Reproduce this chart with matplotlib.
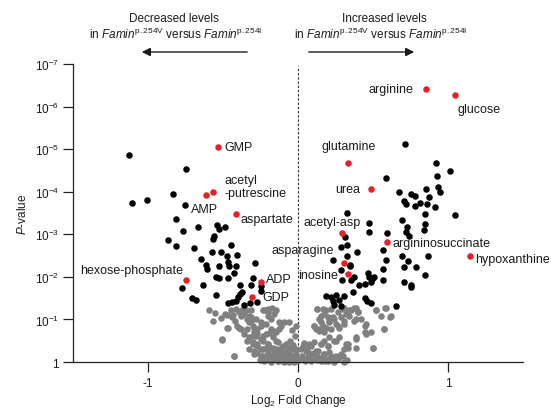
import numpy as np
import matplotlib
matplotlib.use("Agg")
import matplotlib.pyplot as plt

plt.rcParams['font.family'] = ['Liberation Sans', 'DejaVu Sans']
plt.rcParams['mathtext.fontset'] = 'custom'
plt.rcParams['mathtext.rm'] = 'Liberation Sans'
plt.rcParams['mathtext.it'] = 'Liberation Sans:italic'
plt.rcParams['mathtext.default'] = 'regular'

# ---------------- data (log2 fold change, -log10 P) ----------------
gray_fc = [-0.593, -0.564, -0.504, -0.426, -0.488, -0.466, -0.430, -0.421, -0.404, -0.370,
           -0.359, -0.343, -0.326, -0.314, -0.303, -0.381, -0.337, -0.292, -0.270, -0.247,
           -0.225, -0.203, -0.176, -0.163, -0.125, -0.091, -0.058, -0.114, -0.326, -0.281,
           -0.247, -0.214, -0.181, -0.147, -0.303, -0.270, -0.236, -0.203, -0.169, -0.136,
           -0.103, -0.069, -0.292, -0.247, -0.214, -0.181, -0.147, -0.114, -0.080, -0.047,
           -0.025, -0.225, -0.181, -0.136, -0.091, -0.058, -0.025,
           -0.553, -0.515, -0.470, -0.448, -0.415, -0.392, -0.348, -0.314, -0.236, -0.203,
           -0.147, -0.437, -0.381, -0.314, -0.281, -0.203, -0.181, -0.470, -0.392, -0.326,
           -0.292, -0.247, -0.214, -0.158, -0.125, -0.504, -0.359, -0.303, -0.270, -0.236,
           -0.192, -0.169, -0.147, -0.337, -0.303, -0.270, -0.236, -0.203, -0.326, -0.292,
           -0.247, -0.214, -0.181, -0.147, -0.114, -0.080, -0.058, -0.036, -0.426, -0.236,
           -0.203, -0.169, -0.136, -0.103, -0.069, -0.036, -0.013, -0.181, -0.136, -0.091,
           -0.058, -0.013,
           -0.020, -0.040, -0.060, -0.080, -0.100, -0.120, -0.150, -0.160, -0.190, -0.200,
           -0.220, -0.250, -0.270, -0.010, -0.030, -0.050, -0.020, -0.040, -0.010,
           0.127, 0.154, 0.187, 0.221, 0.265, 0.310, 0.355, 0.388, 0.399, 0.343,
           0.288, 0.243, 0.210, 0.154, 0.109, 0.143, 0.176, 0.221, 0.265, 0.310,
           0.377, 0.421, 0.455, 0.522, 0.582, 0.622, 0.577, 0.488, 0.444, 0.388,
           0.332, 0.310, 0.499, 0.243, 0.198, 0.154, 0.109, 0.087, 0.132, 0.176,
           0.221, 0.265, 0.310, 0.065, 0.031, 0.109, 0.154, 0.198, 0.243, 0.276,
           0.125, 0.165, 0.176, 0.198, 0.143, 0.109, 0.120, 0.143, 0.165, 0.187,
           0.210, 0.232, 0.254, 0.276, 0.310, 0.321, 0.299, 0.343, 0.377, 0.399,
           0.388, 0.444, 0.455, 0.388, 0.276, 0.321, 0.332, 0.254, 0.210, 0.176,
           0.198, 0.154, 0.120, 0.076, 0.031, 0.054, 0.087, 0.132, 0.176, 0.210,
           0.254, 0.288, 0.388, 0.499, 0.522, 0.555, 0.589, 0.611, 0.577,
           0.010, 0.030, 0.050, 0.070, 0.090, 0.110, 0.130, 0.160, 0.180, 0.200,
           0.230, 0.020, 0.040, 0.060, 0.300, 0.330]
gray_nlp = [1.23, 0.96, 0.52, 0.15, 1.13, 0.80, 1.10, 0.97, 0.85, 1.23,
            1.13, 1.01, 1.09, 0.97, 0.85, 0.78, 0.78, 0.70, 0.78, 0.93,
            1.23, 1.17, 1.26, 1.13, 0.93, 0.95, 0.93, 0.85, 0.58, 0.62,
            0.54, 0.66, 0.78, 0.70, 0.42, 0.38, 0.31, 0.42, 0.34, 0.46,
            0.38, 0.31, 0.19, 0.15, 0.07, 0.15, 0.19, 0.11, 0.19, 0.07,
            0.15, 0.02, 0.01, 0.03, 0.01, 0.00, 0.01,
            1.14, 1.03, 1.11, 1.22, 1.25, 1.17, 1.22, 1.22, 1.21, 1.25,
            1.22, 1.05, 1.09, 1.05, 1.01, 1.09, 1.01, 0.81, 0.81, 0.93,
            0.81, 0.85, 0.89, 0.74, 0.78, 0.54, 0.66, 0.62, 0.67, 0.62,
            0.67, 0.58, 0.50, 0.50, 0.46, 0.42, 0.50, 0.42, 0.31, 0.27,
            0.31, 0.34, 0.34, 0.31, 0.34, 0.42, 0.34, 0.31, 0.15, 0.15,
            0.19, 0.15, 0.19, 0.23, 0.19, 0.15, 0.19, 0.03, 0.03, 0.07,
            0.03, 0.03,
            0.05, 0.12, 0.22, 0.10, 0.02, 0.20, 0.08, 0.25, 0.05, 0.22,
            0.12, 0.05, 0.22, 0.30, 0.40, 0.50, 0.60, 0.75, 0.85,
            1.25, 1.09, 1.21, 1.25, 1.17, 1.28, 1.21, 1.28, 1.17, 1.09,
            1.05, 1.01, 0.93, 0.93, 0.85, 0.78, 0.70, 0.78, 0.85, 0.89,
            0.97, 1.01, 0.89, 1.21, 1.28, 1.09, 0.78, 0.70, 0.70, 0.54,
            0.42, 0.31, 0.34, 0.50, 0.38, 0.42, 0.46, 0.38, 0.27, 0.19,
            0.15, 0.07, 0.00, 0.23, 0.07, 0.07, 0.03, 0.03, 0.00, 0.11,
            1.25, 1.25, 1.13, 1.05, 1.01, 0.85, 0.78, 0.74, 0.85, 0.81,
            0.97, 1.05, 0.89, 0.81, 0.97, 1.13, 1.25, 1.21, 1.28, 1.17,
            1.01, 0.85, 0.66, 0.58, 0.58, 0.42, 0.34, 0.50, 0.58, 0.50,
            0.38, 0.42, 0.27, 0.42, 0.38, 0.27, 0.19, 0.11, 0.19, 0.23,
            0.15, 0.19, 0.34, 0.34, 1.21, 1.09, 1.28, 1.05, 0.78,
            0.05, 0.15, 0.03, 0.12, 0.02, 0.20, 0.05, 0.10, 0.03, 0.08,
            0.05, 0.30, 0.45, 0.35, 0.15, 0.05]

black_fc = [-1.124, -0.747, -0.831, -1.106, -1.005, -0.756, -0.814, -0.767, -0.667, -0.537,
            -0.528, -0.484, -0.867, -0.814, -0.569, -0.560, -0.444, -0.694, -0.573, -0.515,
            -0.473, -0.406, -0.649, -0.613, -0.604, -0.524, -0.464, -0.462, -0.410, -0.288,
            -0.546, -0.528, -0.466, -0.426, -0.303, -0.631, -0.776, -0.386, -0.314, -0.247,
            -0.247, -0.707, -0.682, -0.546, -0.388, -0.375, -0.399, -0.415, -0.437, -0.468,
            -0.363, -0.319, -0.276,
            0.716, 0.923, 1.017, 0.925, 0.586, 0.673, 0.756, 0.778, 0.856, 0.936,
            0.948, 0.874, 0.707, 0.718, 0.778, 0.816, 0.858, 0.916, 0.845, 1.046,
            0.328, 0.477, 0.477, 0.595, 0.696, 0.727, 0.720, 0.738, 0.845, 0.838,
            0.314, 0.326, 0.288, 0.395, 0.566, 0.236, 0.326, 0.696, 0.736, 0.867,
            0.350, 0.348, 0.586, 0.288, 0.566, 0.707, 0.787, 0.845, 0.296, 0.355,
            0.377, 0.466, 0.477, 0.497, 0.506, 0.484, 0.410, 0.444, 0.566, 0.707,
            0.756, 0.756, 0.366, 0.187, 0.221, 0.254, 0.306, 0.232, 0.276, 0.448,
            0.462, 0.488, 0.243, 0.288, 0.656]
black_nlp = [4.86, 4.53, 3.94, 3.74, 3.81, 3.69, 3.35, 3.08, 3.16, 3.21,
             3.12, 3.18, 2.87, 2.73, 2.89, 2.95, 2.75, 2.68, 2.58, 2.59,
             2.49, 2.51, 2.42, 2.29, 2.18, 2.26, 2.36, 2.26, 2.26, 2.33,
             2.00, 1.98, 1.97, 2.09, 1.97, 1.82, 1.74, 1.81, 1.82, 1.79,
             1.66, 1.50, 1.46, 1.58, 1.59, 1.64, 1.52, 1.44, 1.42, 1.39,
             1.34, 1.39, 1.42,
             5.13, 4.67, 4.49, 4.38, 4.31, 4.00, 3.94, 3.91, 4.06, 4.10,
             4.00, 3.88, 3.77, 3.72, 3.66, 3.73, 3.72, 3.64, 3.48, 3.46,
             3.51, 3.27, 3.05, 3.04, 3.34, 3.18, 3.05, 2.96, 3.24, 3.09,
             2.94, 2.75, 2.69, 2.58, 2.63, 2.40, 2.50, 2.50, 2.37, 2.48,
             2.29, 2.26, 2.39, 2.17, 2.18, 2.22, 2.22, 2.04, 1.92, 1.93,
             1.99, 2.09, 2.00, 1.96, 1.99, 1.89, 1.80, 1.83, 1.93, 1.89,
             1.81, 1.76, 1.64, 1.56, 1.52, 1.57, 1.56, 1.44, 1.45, 1.50,
             1.44, 1.39, 1.34, 1.31, 1.31]

red_names = ['GMP', 'acetyl\n-putrescine', 'AMP', 'aspartate', 'hexose-phosphate', 'ADP', 'GDP',
             'arginine', 'glucose', 'glutamine', 'urea', 'acetyl-asp', 'argininosuccinate',
             'hypoxanthine', 'asparagine', 'inosine']
red_fc = [-0.535, -0.564, -0.616, -0.415, -0.747, -0.245, -0.306,
          0.856, 1.046, 0.337, 0.486, 0.292, 0.595, 1.146, 0.306, 0.337]
red_nlp = [5.05, 4.00, 3.93, 3.48, 1.93, 1.89, 1.53,
           6.42, 6.27, 4.67, 4.06, 3.02, 2.81, 2.48, 2.33, 2.07]

x_ticks = [-1, 0, 1]
y_exponents = [0, 1, 2, 3, 4, 5, 6, 7]

# ---------------- layout ----------------
label_pos = {
    'GMP': (-0.488, 5.05, 'left'),
    'acetyl\n-putrescine': (-0.488, 4.12, 'left'),
    'AMP': (-0.716, 3.59, 'left'),
    'aspartate': (-0.381, 3.36, 'left'),
    'hexose-phosphate': (-0.763, 2.16, 'right'),
    'ADP': (-0.214, 1.95, 'left'),
    'GDP': (-0.234, 1.53, 'left'),
    'arginine': (0.769, 6.41, 'right'),
    'glucose': (1.064, 5.94, 'left'),
    'glutamine': (0.341, 5.07, 'center'),
    'urea': (0.415, 4.06, 'right'),
    'acetyl-asp': (0.421, 3.29, 'right'),
    'argininosuccinate': (0.629, 2.80, 'left'),
    'hypoxanthine': (1.184, 2.42, 'left'),
    'asparagine': (0.241, 2.63, 'right'),
    'inosine': (0.266, 2.04, 'right'),
}

TXT = '#1a1a1a'
fig = plt.figure(figsize=(5.51, 4.10), dpi=100)
ax = fig.add_axes([0.1325, 0.1146, 0.8165, 0.727])

to_p = lambda v: 10.0 ** (-np.asarray(v))

ms = 22
ax.scatter(gray_fc, to_p(gray_nlp), s=ms, color='#808080', linewidths=0, zorder=2, clip_on=False)
ax.scatter(black_fc, to_p(black_nlp), s=ms, color='black', linewidths=0, zorder=3, clip_on=False)
ax.scatter(red_fc, to_p(red_nlp), s=ms, color='#e8202a', linewidths=0, zorder=4, clip_on=False)

ax.set_yscale('log')
ax.set_ylim(1, 1e-7)
ax.set_xlim(-1.5, 1.5)

ax.plot([0, 0], [1, 10 ** -6.95], linestyle=(0, (2.2, 1.6)), color='#333333', lw=0.8, zorder=1)

ax.set_xticks(x_ticks)
ax.set_xticklabels([str(t) for t in x_ticks], fontsize=8.5, color=TXT)
ax.set_yticks([10.0 ** -e for e in y_exponents])
ax.set_yticklabels(['1' if e == 0 else r'10$^{-%d}$' % e for e in y_exponents], fontsize=8.5, color=TXT)
ax.yaxis.set_minor_locator(matplotlib.ticker.NullLocator())
ax.tick_params(axis='both', length=7.5, width=0.9, color='#222222')
ax.tick_params(axis='x', pad=3)
ax.tick_params(axis='y', pad=2.5)

for s in ['top', 'right']:
    ax.spines[s].set_visible(False)
for s in ['left', 'bottom']:
    ax.spines[s].set_linewidth(0.9)
    ax.spines[s].set_color('#222222')

ax.set_xlabel(r'Log$_2$ Fold Change', fontsize=8.5, color=TXT, labelpad=2.5)
ax.set_ylabel(r'$\it{P}$-value', fontsize=8.5, color=TXT, labelpad=4)

for name in red_names:
    x, k, ha = label_pos[name]
    ax.text(x, 10.0 ** -k, name, ha=ha, va='center', fontsize=9, color=TXT,
            linespacing=1.15, zorder=5)

# header annotations (figure coords)
def fy(py):
    return 1 - py / 410.0

def fx(px):
    return px / 551.0

fam = r'in $\it{Famin}^{\rm p.254V}$ versus $\it{Famin}^{\rm p.254I}$'
fig.text(fx(174), fy(19), 'Decreased levels', ha='center', va='center', fontsize=8.5, color=TXT)
fig.text(fx(176), fy(34), fam, ha='center', va='center', fontsize=8.5, color=TXT)
fig.text(fx(384), fy(19), 'Increased levels', ha='center', va='center', fontsize=8.5, color=TXT)
fig.text(fx(381), fy(34), fam, ha='center', va='center', fontsize=8.5, color=TXT)

fig.add_artist(matplotlib.patches.FancyArrowPatch((fx(250), fy(53)), (fx(139), fy(53)),
               transform=fig.transFigure, arrowstyle='-|>,head_length=5,head_width=2.5',
               color='#1a1a1a', lw=1.0, mutation_scale=1))
fig.add_artist(matplotlib.patches.FancyArrowPatch((fx(306), fy(53)), (fx(417), fy(53)),
               transform=fig.transFigure, arrowstyle='-|>,head_length=5,head_width=2.5',
               color='#1a1a1a', lw=1.0, mutation_scale=1))

fig.savefig('out.png', dpi=100)
